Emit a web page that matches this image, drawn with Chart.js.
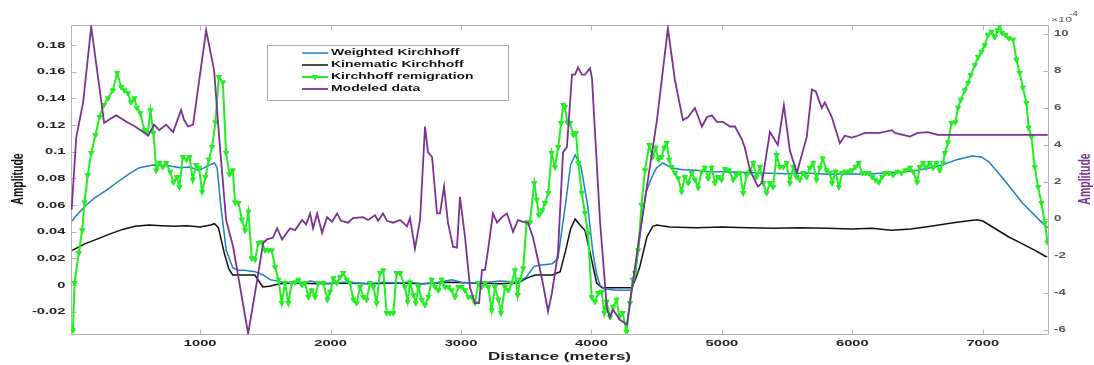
<!DOCTYPE html>
<html>
<head>
<meta charset="utf-8">
<script src="https://cdn.jsdelivr.net/npm/chart.js@4.4.1/dist/chart.umd.min.js"></script>
<style>
  html, body { margin: 0; padding: 0; background: #ffffff; }
  #wrap { width: 1094px; height: 365px; }
</style>
</head>
<body>
<div id="wrap"><canvas id="c" width="1094" height="365"></canvas></div>
<script>
// Amplitude profiles along the line (distance in meters)

const xTicks = [1000, 2000, 3000, 4000, 5000, 6000, 7000];
const leftTicks = [-0.02, 0, 0.02, 0.04, 0.06, 0.08, 0.1, 0.12, 0.14, 0.16, 0.18];
const rightTicks = [-6, -4, -2, 0, 2, 4, 6, 8, 10];

const seriesNames = ['Weighted Kirchhoff', 'Kinematic Kirchhoff', 'Kirchhoff remigration', 'Modeled data'];

const weightedX = [19,50,126,200,280,356,450,533,640,750,
  850,920,992,1050,1110,1130,1160,1200,1250,1290,
  1340,1420,1483,1536,1636,1700,1800,1850,1900,2000,
  2100,2200,2300,2400,2500,2600,2700,2800,2930,3000,
  3100,3200,3300,3440,3500,3560,3620,3700,3743,3800,
  3840,3875,3920,3973,4011,4040,4065,4100,4200,4310,
  4340,4386,4420,4463,4500,4548,4610,4700,4800,4900,
  5000,5150,5300,5500,5650,5800,5950,6100,6250,6400,
  6500,6600,6690,6800,6916,6990,7050,7146,7220,7299,
  7380,7452,7498];
const weightedY = [0.048,0.052,0.06,0.066,0.071,0.0765,0.083,0.088,0.09,0.0895,
  0.088,0.0885,0.086,0.089,0.0915,0.088,0.058,0.026,0.013,0.011,
  0.011,0.01,0.0075,0.004,0.002,0.0015,0.002,0.003,0.0015,0.001,
  0.002,0.0015,0.001,0.002,0.0015,0.002,0.001,0.0015,0.004,0.002,
  0.0015,0.002,0.003,0.002,0.006,0.014,0.015,0.016,0.02,0.06,
  0.09,0.0975,0.0885,0.0585,0.024,0.008,0,-0.003,-0.004,-0.004,
  0.01,0.049,0.07,0.081,0.088,0.0915,0.088,0.0865,0.086,0.085,
  0.085,0.0845,0.084,0.0835,0.084,0.083,0.0835,0.083,0.084,0.085,
  0.086,0.088,0.09,0.094,0.0967,0.096,0.092,0.081,0.072,0.062,
  0.054,0.047,0.043];

const kinematicX = [19,60,120,200,300,400,500,610,700,800,
  900,1000,1080,1110,1140,1185,1220,1250,1300,1420,
  1450,1480,1530,1610,1700,1900,2100,2300,2500,2700,
  2900,3100,3300,3436,3500,3567,3700,3760,3800,3840,
  3875,3920,3950,3990,4040,4080,4310,4340,4370,4425,
  4470,4500,4600,4800,5000,5200,5400,5600,5800,6000,
  6150,6300,6450,6600,6800,6955,7000,7100,7200,7300,
  7400,7490];
const kinematicY = [0.026,0.028,0.031,0.034,0.038,0.0415,0.044,0.045,0.0445,0.044,
  0.0445,0.0435,0.045,0.046,0.043,0.024,0.012,0.0075,0.0075,0.0075,
  0.003,-0.0015,-0.001,0.001,0.0015,0.001,0.0015,0.001,0.0015,0.001,
  0.002,0.0015,0.001,0.0015,0.005,0.0075,0.0075,0.01,0.025,0.042,
  0.0495,0.044,0.041,0.024,0.0015,-0.002,-0.002,0.005,0.0135,0.036,
  0.044,0.045,0.0435,0.043,0.0435,0.043,0.0425,0.043,0.0425,0.042,
  0.0425,0.041,0.042,0.044,0.047,0.049,0.048,0.042,0.036,0.031,
  0.026,0.021];

const remigX = [25,37,70,96,113,139,165,198,228,262,
  293,331,364,395,420,446,471,497,515,540,
  573,599,619,642,663,688,714,740,770,795,
  821,841,867,893,918,944,969,992,1015,1041,
  1067,1092,1117,1143,1174,1199,1225,1250,1268,1294,
  1320,1345,1370,1396,1421,1447,1473,1498,1524,1549,
  1575,1600,1626,1651,1677,1702,1728,1753,1779,1804,
  1830,1855,1881,1906,1945,1976,1996,2022,2047,2073,
  2098,2124,2149,2175,2200,2226,2251,2277,2302,2328,
  2353,2379,2404,2430,2455,2481,2506,2533,2570,2591,
  2609,2635,2653,2673,2699,2724,2750,2775,2801,2826,
  2852,2877,2903,2928,2954,2979,3005,3031,3056,3082,
  3107,3133,3158,3184,3209,3235,3260,3286,3307,3337,
  3362,3388,3413,3434,3452,3477,3503,3528,3562,3580,
  3598,3623,3644,3669,3695,3720,3746,3767,3784,3797,
  3815,3835,3861,3881,3899,3925,3950,3974,4001,4027,
  4052,4078,4098,4116,4142,4167,4193,4213,4239,4269,
  4295,4316,4333,4358,4384,4410,4443,4469,4492,4515,
  4538,4558,4576,4596,4614,4640,4665,4691,4716,4742,
  4768,4793,4818,4844,4870,4895,4921,4946,4972,4997,
  5023,5054,5087,5113,5138,5163,5189,5215,5240,5266,
  5292,5317,5343,5368,5393,5419,5444,5470,5496,5521,
  5547,5572,5598,5623,5649,5674,5700,5725,5751,5772,
  5802,5828,5845,5871,5897,5922,5948,5973,5998,6024,
  6050,6075,6101,6126,6152,6177,6203,6228,6254,6280,
  6313,6346,6377,6407,6441,6466,6497,6517,6543,6568,
  6594,6620,6645,6670,6696,6709,6734,6760,6790,6810,
  6832,6862,6887,6908,6939,6964,6990,7015,7040,7066,
  7092,7112,7130,7148,7173,7199,7232,7258,7283,7308,
  7335,7352,7373,7398,7424,7450,7476,7496];
const remigY = [-0.034,0.0015,0.024,0.041,0.062,0.0825,0.099,0.1125,0.126,0.135,
  0.14,0.146,0.159,0.1485,0.146,0.144,0.137,0.14,0.133,0.129,
  0.116,0.114,0.131,0.114,0.086,0.0915,0.0885,0.0915,0.085,0.077,
  0.081,0.0735,0.096,0.094,0.096,0.079,0.09,0.088,0.07,0.081,
  0.094,0.1035,0.122,0.156,0.152,0.099,0.083,0.086,0.062,0.0615,
  0.049,0.041,0.055,0.02,0.019,0.0315,0.032,0.026,0.026,0.026,
  0.0135,0.004,-0.0135,0.0015,-0.0135,0.0015,0.002,0.004,0,0.0015,
  -0.009,-0.004,-0.009,0.0015,0.0015,-0.011,-0.005,0.005,0.0015,0.006,
  0.009,0.004,0.0015,-0.011,-0.0135,-0.0015,-0.009,-0.011,0.0015,-0.0015,
  -0.0135,0.009,0.011,-0.021,-0.021,-0.021,0.009,0.009,-0.0015,-0.0125,
  0.002,-0.0075,-0.0135,-0.0015,-0.011,-0.015,-0.009,0.004,-0.0015,-0.004,
  0.004,-0.0015,-0.0015,-0.004,-0.009,-0.0015,-0.0015,-0.004,-0.009,-0.009,
  -0.0135,0.0015,-0.0015,0.0015,-0.0015,-0.019,-0.0015,-0.011,-0.021,-0.0015,
  -0.004,0.0015,0.011,-0.0075,0.004,0.0125,0.047,0.047,0.0765,0.064,
  0.0525,0.056,0.0615,0.069,0.099,0.0885,0.1035,0.1215,0.135,0.1335,
  0.122,0.1215,0.1125,0.114,0.0915,0.069,0.054,0.039,-0.009,-0.0125,
  -0.006,-0.005,-0.021,-0.0125,-0.024,-0.0165,-0.011,-0.024,-0.021,-0.035,
  -0.0135,0.004,0.009,0.026,0.06,0.086,0.105,0.096,0.103,0.094,
  0.096,0.103,0.1065,0.094,0.0885,0.084,0.08,0.07,0.081,0.0765,
  0.084,0.079,0.073,0.085,0.088,0.08,0.088,0.0765,0.081,0.079,
  0.087,0.086,0.079,0.0825,0.084,0.069,0.0825,0.085,0.0915,0.081,
  0.0885,0.0765,0.069,0.0765,0.0735,0.0975,0.0885,0.0885,0.0915,0.0765,
  0.0885,0.081,0.079,0.084,0.081,0.088,0.0915,0.079,0.088,0.095,
  0.086,0.084,0.0765,0.085,0.0735,0.084,0.085,0.085,0.086,0.0885,
  0.0915,0.084,0.084,0.084,0.081,0.079,0.077,0.081,0.084,0.084,
  0.0825,0.085,0.084,0.086,0.088,0.085,0.077,0.0885,0.0915,0.088,
  0.0915,0.088,0.0915,0.086,0.0915,0.099,0.107,0.1215,0.122,0.133,
  0.139,0.146,0.1515,0.1575,0.165,0.171,0.175,0.18,0.1875,0.19,
  0.186,0.191,0.195,0.189,0.1875,0.185,0.184,0.169,0.159,0.148,
  0.1365,0.118,0.111,0.0885,0.0735,0.0615,0.0465,0.032];

// Modeled data, plotted against the right axis (units of 1e-4)
const modeledX = [15,50,103,165,264,310,356,402,448,502,
  563,602,647,686,739,793,854,877,908,946,
  1046,1107,1146,1199,1253,1368,1437,1483,1513,1559,
  1590,1628,1690,1728,1782,1812,1843,1866,1897,1935,
  1973,2011,2050,2080,2134,2172,2249,2287,2341,2364,
  2402,2433,2479,2533,2556,2586,2609,2647,2686,2724,
  2747,2778,2816,2839,2870,2900,2939,2969,2992,3031,
  3069,3107,3138,3161,3184,3207,3245,3276,3314,3352,
  3376,3399,3437,3475,3513,3552,3590,3628,3667,3697,
  3743,3782,3812,3851,3874,3897,3927,3950,3989,4004,
  4065,4119,4142,4165,4195,4218,4272,4349,4425,4502,
  4586,4640,4701,4739,4793,4847,4885,4923,4962,5008,
  5061,5100,5153,5176,5215,5276,5307,5368,5429,5475,
  5521,5575,5651,5690,5720,5766,5789,5843,5904,5942,
  5996,6042,6096,6211,6303,6326,6441,6502,6579,6655,
  6824,7130,7498];
const modeledY = [0.5,4.4,6.3,10.4,5.2,5.4,5.6,5.4,5.2,5.0,
  4.7,4.5,5.1,4.8,5.1,4.7,5.9,5.35,5.0,5.1,
  10.2,8.05,4.4,-0.05,-1.5,-6.2,-3.3,-1.3,-1.1,-1.0,
  -0.5,-1.1,-0.5,-0.6,-0.05,-0.3,0.3,-0.5,0.3,-0.75,
  0.1,-0.15,0.3,-0.1,-0.2,0.05,0.1,-0.05,0.2,-0.1,
  0.3,-0.1,-0.2,-0.05,-0.2,-0.4,0.05,-1.6,-0.05,5.0,
  3.6,3.35,0.3,0.3,1.75,-0.2,-1.5,-1.55,1.2,-1.0,
  -3.7,-4.55,-4.55,-2.75,-2.75,-1.7,0.3,-0.2,0.1,0.3,
  -0.2,-0.7,-0.05,-0.15,-0.2,-1.0,-2.2,-3.5,-5.0,-4.0,
  -1.85,3.6,3.9,7.8,7.8,8.2,7.8,7.8,8.15,7.6,
  -0.05,-4.9,-5.3,-4.9,-5.2,-5.45,-5.7,-1.85,1.75,5.35,
  10.3,7.5,5.35,5.5,6.0,5.0,5.5,5.6,5.25,5.25,
  5.0,5.0,4.3,3.85,2.65,1.75,1.95,4.7,4.0,6.15,
  3.7,2.5,4.45,7.0,6.9,6.0,6.3,5.5,4.1,4.5,
  4.4,4.5,4.65,4.65,4.8,4.65,4.45,4.65,4.7,4.55,
  4.55,4.55,4.55];

function pairs(xs, ys) {
  const n = Math.min(xs.length, ys.length);
  const out = [];
  for (let i = 0; i < n; i++) out.push({ x: xs[i], y: ys[i] });
  return out;
}

const FONT = "'Liberation Sans', Arial, sans-serif";
const SX = 1.55; // horizontal text stretch

function drawText(ctx, s, x, y, size, color, align, weight) {
  ctx.save();
  ctx.font = (weight || 'bold') + ' ' + size + 'px ' + FONT;
  ctx.fillStyle = color;
  ctx.textAlign = align || 'left';
  ctx.textBaseline = 'middle';
  ctx.translate(x, y);
  ctx.scale(SX, 1);
  ctx.fillText(s, 0, 0);
  ctx.restore();
}

function drawVertical(ctx, s, x, y, size, color) {
  ctx.save();
  ctx.font = 'bold ' + size + 'px ' + FONT;
  ctx.fillStyle = color;
  ctx.textAlign = 'center';
  ctx.textBaseline = 'middle';
  ctx.translate(x, y);
  ctx.rotate(-Math.PI / 2);
  ctx.scale(1, SX);
  ctx.fillText(s, 0, 0);
  ctx.restore();
}

function fmtLeft(v) { return String(Number(v.toFixed(2))); }

const framePlugin = {
  id: 'frame',
  beforeDraw(chart) {
    const ctx = chart.ctx;
    ctx.save();
    ctx.fillStyle = '#ffffff';
    ctx.fillRect(0, 0, chart.width, chart.height);
    ctx.restore();
  },
  beforeDatasetsDraw(chart) {
    const { ctx, chartArea: a, scales } = chart;
    const L = Math.round(a.left) + 0.5, R = Math.round(a.right) + 0.5;
    const T = Math.round(a.top) + 0.5, B = Math.round(a.bottom) + 0.5;
    ctx.save();
    ctx.lineWidth = 1;
    ctx.strokeStyle = '#b4b4b4';
    ctx.beginPath();
    ctx.moveTo(L, T); ctx.lineTo(R, T);
    ctx.moveTo(L, B); ctx.lineTo(R, B);
    ctx.moveTo(L, T); ctx.lineTo(L, B);
    ctx.stroke();
    // bottom/top tick marks
    ctx.beginPath();
    scales.x.ticks.forEach(t => {
      const px = Math.round(scales.x.getPixelForValue(t.value)) + 0.5;
      ctx.moveTo(px, B); ctx.lineTo(px, B - 5);
      ctx.moveTo(px, T); ctx.lineTo(px, T + 5);
    });
    scales.y.ticks.forEach(t => {
      const py = Math.round(scales.y.getPixelForValue(t.value)) + 0.5;
      ctx.moveTo(L, py); ctx.lineTo(L + 5, py);
    });
    ctx.stroke();
    // right axis
    ctx.strokeStyle = '#bfa9c6';
    ctx.beginPath();
    ctx.moveTo(R, T); ctx.lineTo(R, B);
    scales.y1.ticks.forEach(t => {
      const py = Math.round(scales.y1.getPixelForValue(t.value)) + 0.5;
      ctx.moveTo(R, py); ctx.lineTo(R - 5, py);
    });
    ctx.stroke();
    ctx.restore();
  },
  afterDatasetsDraw(chart) {
    const { ctx, chartArea: a, scales } = chart;
    // tick labels
    scales.x.ticks.forEach(t => {
      drawText(ctx, String(t.value), scales.x.getPixelForValue(t.value), 343, 9.5, '#222', 'center');
    });
    scales.y.ticks.forEach(t => {
      drawText(ctx, fmtLeft(t.value), 65.5, scales.y.getPixelForValue(t.value), 9.5, '#222', 'right');
    });
    scales.y1.ticks.forEach(t => {
      drawText(ctx, String(t.value), 1054, scales.y1.getPixelForValue(t.value), 8.5, '#555', 'left');
    });
    drawText(ctx, '\u00d710', 1051, 20, 8, '#555', 'left', 'normal');
    drawText(ctx, '-4', 1069, 14, 6.5, '#555', 'left', 'normal');
    // axis titles
    drawText(ctx, 'Distance (meters)', (a.left + a.right) / 2, 357, 11, '#222', 'center');
    drawVertical(ctx, 'Amplitude', 19, 179, 10.5, '#111');
    drawVertical(ctx, 'Amplitude', 1086, 179, 10.5, '#7b3290');

    // legend box
    const bx = 267.5, by = 45.5, bw = 241, bh = 55;
    ctx.save();
    ctx.fillStyle = '#ffffff';
    ctx.fillRect(bx, by, bw, bh);
    ctx.strokeStyle = '#aaaaaa';
    ctx.lineWidth = 1;
    ctx.strokeRect(bx, by, bw, bh);
    chart.data.datasets.forEach((ds, i) => {
      const yy = 53 + i * 12;
      ctx.strokeStyle = ds.borderColor;
      ctx.lineWidth = ds.borderWidth;
      ctx.beginPath();
      ctx.moveTo(302, yy); ctx.lineTo(328, yy);
      ctx.stroke();
      if (ds.pointRadius > 0 && Chart.helpers && Chart.helpers.drawPoint) {
        ctx.fillStyle = ds.pointBackgroundColor;
        ctx.strokeStyle = ds.pointBorderColor;
        ctx.lineWidth = 1;
        Chart.helpers.drawPoint(ctx, { pointStyle: ds.pointStyle, rotation: ds.pointRotation, radius: ds.pointRadius, borderWidth: 1 }, 315, yy);
      }
      drawText(ctx, ds.label, 331, yy, 9, '#111', 'left');
    });
    ctx.restore();
  }
};

const ctx = document.getElementById('c').getContext('2d');
new Chart(ctx, {
  type: 'line',
  data: {
    datasets: [
      {
        label: seriesNames[0], data: pairs(weightedX, weightedY), yAxisID: 'y',
        borderColor: '#1f7fc2', borderWidth: 1.5, pointRadius: 0, tension: 0, order: 3
      },
      {
        label: seriesNames[1], data: pairs(kinematicX, kinematicY), yAxisID: 'y',
        borderColor: '#111111', borderWidth: 1.5, pointRadius: 0, tension: 0, order: 4
      },
      {
        label: seriesNames[2], data: pairs(remigX, remigY), yAxisID: 'y',
        borderColor: '#22ee22', borderWidth: 2, tension: 0, order: 2,
        pointStyle: 'triangle', pointRotation: 180, pointRadius: 3,
        pointBackgroundColor: '#22ee22', pointBorderColor: '#22ee22', pointBorderWidth: 1
      },
      {
        label: seriesNames[3], data: pairs(modeledX, modeledY), yAxisID: 'y1',
        borderColor: '#7b3290', borderWidth: 1.8, pointRadius: 0, tension: 0, order: 1
      }
    ]
  },
  options: {
    responsive: false,
    animation: false,
    devicePixelRatio: 1,
    parsing: true,
    layout: { padding: { left: 71, right: 46, top: 25, bottom: 31 } },
    plugins: { legend: { display: false }, tooltip: { enabled: false } },
    scales: {
      x: {
        type: 'linear', min: 10, max: 7500,
        afterBuildTicks: s => { s.ticks = xTicks.map(v => ({ value: v })); },
        ticks: { display: false },
        grid: { display: false, drawTicks: false },
        border: { display: false }
      },
      y: {
        type: 'linear', position: 'left', min: -0.03675, max: 0.195,
        afterBuildTicks: s => { s.ticks = leftTicks.map(v => ({ value: v })); },
        ticks: { display: false },
        grid: { display: false, drawTicks: false },
        border: { display: false }
      },
      y1: {
        type: 'linear', position: 'right', min: -6.216, max: 10.486,
        afterBuildTicks: s => { s.ticks = rightTicks.map(v => ({ value: v })); },
        ticks: { display: false },
        grid: { display: false, drawTicks: false },
        border: { display: false }
      }
    }
  },
  plugins: [framePlugin]
});
</script>
</body>
</html>
